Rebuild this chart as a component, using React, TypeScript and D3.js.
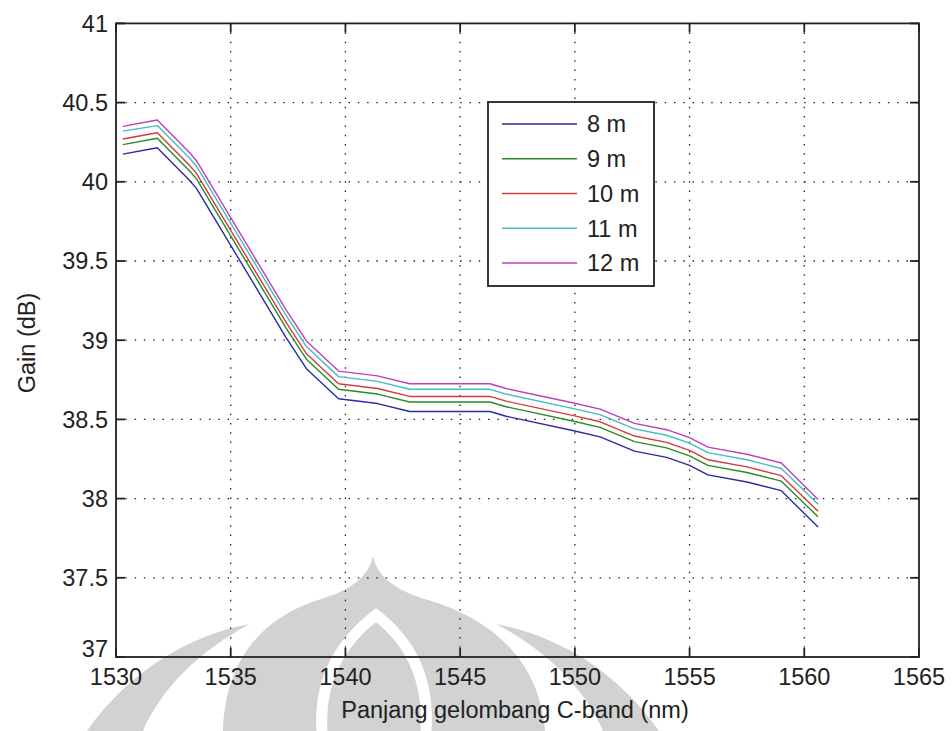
import React from "react";
import * as d3 from "d3";

const wavelength = [1530.3, 1531.8, 1533.2, 1533.5, 1537.4, 1538.3, 1539.7, 1541.4, 1542.8, 1546.3, 1547.0, 1549.9, 1551.1, 1552.6, 1554.0, 1555.0, 1555.8, 1557.5, 1559.0, 1560.6];
const gain8 = [40.175, 40.215, 40.01, 39.96, 39.02, 38.82, 38.63, 38.6, 38.55, 38.55, 38.52, 38.43, 38.39, 38.3, 38.26, 38.21, 38.15, 38.105, 38.05, 37.82];
const gain9 = [40.235, 40.275, 40.07, 40.02, 39.08, 38.88, 38.69, 38.66, 38.61, 38.61, 38.58, 38.49, 38.45, 38.36, 38.32, 38.27, 38.21, 38.165, 38.11, 37.885];
const gain10 = [40.27, 40.31, 40.105, 40.055, 39.115, 38.915, 38.725, 38.695, 38.645, 38.645, 38.615, 38.525, 38.485, 38.395, 38.355, 38.305, 38.245, 38.2, 38.145, 37.92];
const gain11 = [40.32, 40.355, 40.15, 40.1, 39.16, 38.96, 38.77, 38.74, 38.69, 38.69, 38.66, 38.57, 38.53, 38.44, 38.4, 38.35, 38.29, 38.245, 38.19, 37.965];
const gain12 = [40.35, 40.39, 40.185, 40.135, 39.195, 38.995, 38.805, 38.775, 38.725, 38.725, 38.695, 38.605, 38.565, 38.475, 38.435, 38.385, 38.325, 38.28, 38.225, 37.995];

const seriesNames = ["8 m", "9 m", "10 m", "11 m", "12 m"];
const seriesValues = [gain8, gain9, gain10, gain11, gain12];
const seriesColors = ["#2b2b9f", "#2a8a2a", "#d23c3c", "#3fbfbf", "#bf3fbf"];

const xTicks = [1530, 1535, 1540, 1545, 1550, 1555, 1560, 1565];
const yTicks = [37, 37.5, 38, 38.5, 39, 39.5, 40, 40.5, 41];
const xLabel = "Panjang gelombang C-band (nm)";
const yLabel = "Gain (dB)";

const W = 952;
const H = 731;
const L = 116, R = 919, T = 23.4, B = 657;
const FONT = "'Liberation Sans', Arial, Helvetica, sans-serif";

export default function App() {
  const x = d3.scaleLinear().domain([1530, 1565]).range([L, R]);
  const y = d3.scaleLinear().domain([37, 41]).range([B, T]);
  const line = d3
    .line<[number, number]>()
    .x((d) => x(d[0]))
    .y((d) => y(d[1]));

  const tickLen = 9;
  const legend = { x0: 488, y0: 102, x1: 654, y1: 286 };
  const rowY = d3.scaleLinear().domain([0, 4]).range([124, 263]);

  return (
    <svg
      width={W}
      height={H}
      style={{ position: "absolute", left: 0, top: 0, background: "#fff" }}
      fontFamily={FONT}
    >
      <rect x={0} y={0} width={W} height={H} fill="#fff" />
      {/* watermark */}
      <g fill="#d2d2d2">
        <path d="M 373,556 C 368,580 345,592 318,600 C 262,618 225,660 223,731 L 545,731 C 540,660 490,618 428,600 C 401,592 378,580 373,556 Z" />
        <path d="M 87,731 C 130,670 190,635 250,624 C 200,650 160,690 143,731 Z" />
        <path d="M 659,731 C 616,670 556,635 496,624 C 546,650 586,690 603,731 Z" />
      </g>
      <path
        d="M 322,731 C 318,670 350,635 376,615 C 402,635 430,670 426,731"
        fill="none"
        stroke="#fff"
        strokeWidth={11}
      />

      {/* grid */}
      <g stroke="#222" strokeWidth={1.3} strokeDasharray="1.5 7.8">
        {xTicks
          .filter((t) => t > 1530 && t < 1565)
          .map((t) => (
            <line key={"gx" + t} x1={x(t)} x2={x(t)} y1={B} y2={T} />
          ))}
        {yTicks
          .filter((t) => t > 37 && t < 41)
          .map((t) => (
            <line key={"gy" + t} x1={L} x2={R} y1={y(t)} y2={y(t)} />
          ))}
      </g>

      {/* series */}
      <g fill="none" strokeWidth={1.4} strokeLinejoin="round">
        {seriesValues.map((vals, i) => (
          <path
            key={seriesNames[i]}
            d={line(wavelength.map((w, j) => [w, vals[j]] as [number, number])) || ""}
            stroke={seriesColors[i]}
          />
        ))}
      </g>

      {/* axes box and ticks */}
      <g stroke="#222" strokeWidth={1.8}>
        <rect x={L} y={T} width={R - L} height={B - T} fill="none" />
        {xTicks.map((t) => (
          <g key={"tx" + t}>
            <line x1={x(t)} x2={x(t)} y1={B} y2={B - tickLen} />
            <line x1={x(t)} x2={x(t)} y1={T} y2={T + tickLen} />
          </g>
        ))}
        {yTicks.map((t) => (
          <g key={"ty" + t}>
            <line x1={L} x2={L + tickLen} y1={y(t)} y2={y(t)} />
            <line x1={R} x2={R - tickLen} y1={y(t)} y2={y(t)} />
          </g>
        ))}
      </g>

      {/* tick labels */}
      <g fill="#222" fontSize={23.5}>
        {xTicks.map((t) => (
          <text key={"lx" + t} x={x(t)} y={685} textAnchor="middle">
            {t}
          </text>
        ))}
        {yTicks.map((t) => (
          <text
            key={"ly" + t}
            x={108}
            y={y(t) + 8.3 - (t === 37 ? 8 : 0)}
            textAnchor="end"
          >
            {t}
          </text>
        ))}
      </g>

      {/* axis labels */}
      <text x={515} y={718} textAnchor="middle" fontSize={23.5} fill="#222">
        {xLabel}
      </text>
      <text
        transform={`translate(35,343) rotate(-90)`}
        textAnchor="middle"
        fontSize={23.5}
        fill="#222"
      >
        {yLabel}
      </text>

      {/* legend */}
      <g>
        <rect
          x={legend.x0}
          y={legend.y0}
          width={legend.x1 - legend.x0}
          height={legend.y1 - legend.y0}
          fill="#fff"
          stroke="#222"
          strokeWidth={1.8}
        />
        {seriesNames.map((name, i) => (
          <g key={"lg" + name}>
            <line
              x1={502}
              x2={577}
              y1={rowY(i)}
              y2={rowY(i)}
              stroke={seriesColors[i]}
              strokeWidth={1.4}
            />
            <text x={587} y={rowY(i) + 8.3} fontSize={23.5} fill="#222">
              {name}
            </text>
          </g>
        ))}
      </g>
    </svg>
  );
}
